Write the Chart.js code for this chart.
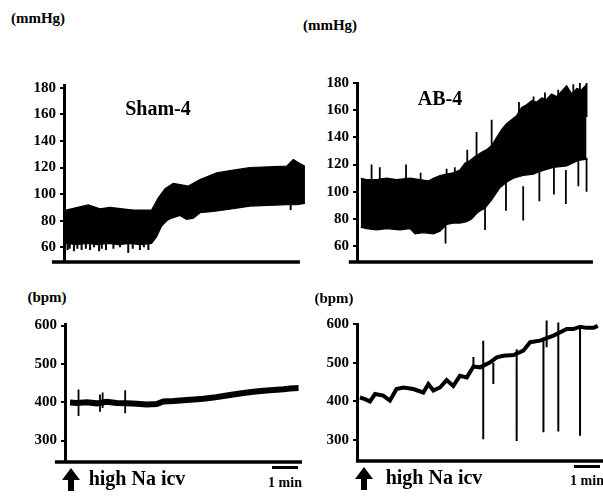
<!DOCTYPE html>
<html>
<head>
<meta charset="utf-8">
<script src="https://cdn.jsdelivr.net/npm/chart.js@4"></script>
<style>
body { margin: 0; background: #fff; }
#page { position: relative; width: 603px; height: 496px; overflow: hidden;
        font-family: "Liberation Serif", "Times New Roman", serif; font-weight: bold; color: #000; }
canvas { position: absolute; }
.t { position: absolute; white-space: nowrap; transform: translate(-50%, -50%); line-height: 1; }
.bar { position: absolute; height: 3px; background: #000; }
.arrow { position: absolute; width: 18px; height: 23px; }
.arrow:before { content: ''; position: absolute; left: 0; top: 0;
  border-left: 9px solid transparent; border-right: 9px solid transparent; border-bottom: 12px solid #000; }
.arrow:after { content: ''; position: absolute; left: 6px; top: 11px; width: 6px; height: 12px; background: #000; }
</style>
</head>
<body>
<div id="page">
  <canvas id="shamBp" width="310" height="205" style="left:0;top:70px"></canvas>
  <canvas id="abBp" width="303" height="205" style="left:300px;top:70px"></canvas>
  <canvas id="shamHr" width="310" height="170" style="left:0;top:310px"></canvas>
  <canvas id="abHr" width="303" height="170" style="left:300px;top:310px"></canvas>

  <div class="t" style="left:38px;top:18px;font-size:15px">(mmHg)</div>
  <div class="t" style="left:330px;top:25px;font-size:15px">(mmHg)</div>
  <div class="t" style="left:158px;top:108px;font-size:20px">Sham-4</div>
  <div class="t" style="left:440px;top:98px;font-size:20px">AB-4</div>
  <div class="t" style="left:47px;top:297px;font-size:15px">(bpm)</div>
  <div class="t" style="left:334px;top:298px;font-size:15px">(bpm)</div>

  <div class="arrow" style="left:62px;top:468px"></div>
  <div class="t" style="left:137px;top:478px;font-size:20px">high Na icv</div>
  <div class="bar" style="left:272px;top:466px;width:26px"></div>
  <div class="t" style="left:285px;top:483px;font-size:14px">1 min</div>

  <div class="arrow" style="left:355px;top:467px"></div>
  <div class="t" style="left:434px;top:477px;font-size:20px">high Na icv</div>
  <div class="bar" style="left:574px;top:465px;width:26px"></div>
  <div class="t" style="left:587px;top:481px;font-size:14px">1 min</div>
</div>
<script>
// time in minutes after the icv injection

// Sham-4 arterial pressure (mmHg), upper and lower edge of the pulse band
const shamBpUpperT = [0, 0.84, 1.28, 1.66, 2.54, 3.23, 3.48, 3.74, 4.05, 4.36, 4.62, 5.06, 5.69, 6.31, 6.94, 8.33, 8.58, 8.83, 9.02];
const shamBpUpperV = [88, 92, 89, 90, 88, 88, 97, 104, 108, 107, 106, 111, 116, 118, 120, 121, 126, 123, 121];
const shamBpLowerT = [0, 0.40, 0.80, 1.20, 1.60, 2.00, 2.40, 2.80, 3.23, 3.42, 3.61, 3.80, 3.99, 4.30, 4.55, 4.81, 5.06, 5.56,
                      6.31, 6.94, 8.33, 8.70, 9.02];
const shamBpLowerV = [63, 62, 63, 62, 63, 62, 63, 62, 63, 68, 76, 80, 82, 84, 81, 82, 86, 87,
                      89, 91, 92, 92, 93];
const shamBpDipT = [0.06, 0.14, 0.30, 0.43, 0.59, 0.75, 0.91, 1.06, 1.25, 1.35, 1.51, 1.79, 2.04, 2.35, 2.52, 2.79, 2.94, 3.11, 8.48];
const shamBpDipV = [58, 59, 57, 59, 58, 59, 58, 60, 57, 59, 58, 59, 60, 56, 59, 58, 60, 58, 88];

// AB-4 arterial pressure (mmHg)
const abBpUpperT = [0.03, 0.25, 0.63, 1.01, 1.38, 1.89, 2.26, 2.58, 2.77, 3.02, 3.27, 3.52, 3.77, 3.96, 4.15, 4.34, 4.59, 4.78, 4.97,
                    5.16, 5.35, 5.53, 5.72, 5.91, 6.10, 6.29, 6.48, 6.67, 6.86, 7.04, 7.23, 7.42, 7.61, 7.80, 7.99, 8.18, 8.36, 8.55];
const abBpUpperV = [110, 109, 109, 110, 109, 110, 109, 108, 110, 112, 113, 114, 116, 121, 123, 126, 129, 131, 134,
                    140, 146, 150, 153, 156, 162, 164, 167, 166, 169, 168, 172, 170, 174, 178, 172, 176, 175, 179];
const abBpLowerT = [0.03, 0.25, 0.63, 1.01, 1.51, 1.89, 2.08, 2.39, 2.77, 3.02, 3.27, 3.52, 3.77, 4.03, 4.21, 4.40, 4.53, 4.72, 4.97,
                    5.28, 5.53, 5.79, 6.16, 6.54, 6.79, 7.30, 7.80, 8.24, 8.58];
const abBpLowerV = [74, 73, 72, 73, 72, 73, 69, 70, 69, 71, 76, 77, 77, 78, 80, 84, 86, 88, 94,
                    103, 107, 110, 112, 113, 115, 118, 119, 123, 124];
const abBpPeakT = [0.44, 0.75, 1.74, 2.29, 3.27, 3.58, 4.05, 4.40, 4.97, 6.00, 6.55, 6.98, 7.48, 8.05, 8.30, 8.55];
const abBpPeakV = [120, 118, 120, 114, 117, 118, 131, 144, 153, 166, 170, 173, 175, 179, 180, 180];
const abBpDipT = [3.23, 4.72, 5.51, 6.16, 6.77, 7.32, 7.77, 8.24, 8.55];
const abBpDipV = [62, 72, 86, 79, 93, 98, 91, 104, 100];

// Sham-4 heart rate (bpm)
const shamHrT = [0.15, 0.40, 0.78, 1.16, 1.53, 1.91, 2.29, 2.67, 3.04, 3.42, 3.67, 4.05, 4.43, 4.81, 5.18, 5.56, 5.94,
                 6.31, 6.69, 7.07, 7.45, 7.82, 8.20, 8.45, 8.77];
const shamHrV = [399, 398, 400, 397, 401, 398, 397, 396, 394, 395, 402, 403, 405, 407, 409, 412, 416,
                 420, 424, 427, 430, 432, 434, 436, 437];
const shamHrSpikeT = [0.47, 1.28, 1.38, 2.23];
const shamHrSpikeLow = [364, 375, 385, 371];
const shamHrSpikeHigh = [433, 420, 425, 431];

// AB-4 heart rate (bpm)
const abHrT = [0, 0.19, 0.38, 0.57, 0.88, 1.13, 1.38, 1.64, 2.01, 2.39, 2.58, 2.77, 3.02, 3.27, 3.52, 3.77, 4.03, 4.28,
               4.53, 4.91, 5.16, 5.41, 5.79, 6.16, 6.42, 6.79, 7.30, 7.80, 8.05, 8.30, 8.55, 8.81, 8.97];
const abHrV = [410, 406, 400, 419, 415, 402, 432, 436, 432, 423, 445, 428, 436, 455, 440, 466, 462, 490,
               488, 501, 514, 518, 520, 531, 553, 557, 570, 587, 587, 593, 590, 590, 595];
const abHrSpikeT = [4.28, 4.65, 5.03, 5.91, 6.92, 7.04, 7.48, 8.30];
const abHrSpikeLow = [485, 302, 445, 298, 320, 540, 322, 311];
const abHrSpikeHigh = [515, 557, 500, 535, 560, 609, 604, 595];

const bpTicks = [60, 80, 100, 120, 140, 160, 180];
const hrTicks = [300, 400, 500, 600];

const serif = "'Liberation Serif', 'Times New Roman', serif";
Chart.defaults.font.family = serif;
Chart.defaults.font.weight = 'bold';
Chart.defaults.color = '#000';

function pts(t, v) {
  return t.map((x, i) => ({ x: x, y: v[i] }));
}
function segs(t, a, b) {
  const out = [];
  t.forEach((x, i) => { out.push({ x: x, y: a[i] }, { x: x, y: b[i] }, { x: x, y: null }); });
  return out;
}

const band = (upper, lower) => [
  { data: upper, borderColor: '#000', backgroundColor: '#000', borderWidth: 1.2, fill: '+1', pointRadius: 0 },
  { data: lower, borderColor: '#000', borderWidth: 1.2, fill: false, pointRadius: 0 }
];
const trace = (data, w) => ({ data: data, borderColor: '#000', borderWidth: w, fill: false, pointRadius: 0,
                              borderJoinStyle: 'miter' });
const spikes = (data, w) => ({ data: data, borderColor: '#000', borderWidth: w || 1.8, fill: false, pointRadius: 0,
                               spanGaps: false, clip: false });

// bottom axis line, may reach past the y axis
const baseLine = {
  id: 'baseLine',
  afterDraw(chart, args, o) {
    const { ctx, chartArea, scales } = chart;
    ctx.save();
    ctx.strokeStyle = '#000';
    ctx.lineWidth = 3.5;
    ctx.beginPath();
    ctx.moveTo(scales.x.getPixelForValue(o.from), chartArea.bottom);
    ctx.lineTo(scales.x.getPixelForValue(o.to), chartArea.bottom);
    ctx.stroke();
    ctx.restore();
  }
};

function panel(id, c) {
  return new Chart(document.getElementById(id), {
    type: 'line',
    data: { datasets: c.datasets },
    options: {
      responsive: false,
      animation: false,
      events: [],
      layout: { padding: c.pad },
      elements: { line: { tension: 0 } },
      plugins: {
        legend: { display: false },
        tooltip: { enabled: false },
        baseLine: { from: c.lineFrom, to: c.lineTo }
      },
      scales: {
        x: { type: 'linear', display: false, min: c.xMin, max: c.xMax },
        y: {
          min: c.yMin, max: c.yMax,
          afterBuildTicks: s => { s.ticks = c.ticks.map(v => ({ value: v })); },
          afterFit: s => { s.width = c.axisW; },
          grid: { drawOnChartArea: false, drawTicks: true, tickLength: 4, lineWidth: 2, color: '#000' },
          border: { display: true, width: 3, color: '#000' },
          ticks: { color: '#000', padding: 4, font: { family: serif, size: 15, weight: 'bold' } }
        }
      }
    },
    plugins: [baseLine]
  });
}

function drawAll() {
  panel('shamBp', {
    datasets: band(pts(shamBpUpperT, shamBpUpperV), pts(shamBpLowerT, shamBpLowerV)).concat([
      spikes(segs(shamBpDipT, shamBpDipV, shamBpDipV.map(v => v + 8)), 2)
    ]),
    ticks: bpTicks, yMin: 49, yMax: 182,
    xMin: -0.075, xMax: 9.06, lineFrom: -0.53, lineTo: 8.83,
    axisW: 64, pad: { top: 15, bottom: 8, right: 4, left: 0 }
  });

  panel('abBp', {
    datasets: band(pts(abBpUpperT, abBpUpperV), pts(abBpLowerT, abBpLowerV)).concat([
      spikes(segs(abBpPeakT, abBpPeakV, abBpPeakV.map(v => v - 25))),
      spikes(segs(abBpDipT, abBpDipV, abBpDipV.map(v => v + 25)))
    ]),
    ticks: bpTicks, yMin: 48.4, yMax: 180,
    xMin: -0.11, xMax: 8.68, lineFrom: -0.42, lineTo: 8.79,
    axisW: 57, pad: { top: 12, bottom: 12, right: 13, left: 0 }
  });

  panel('shamHr', {
    datasets: [trace(pts(shamHrT, shamHrV), 6), spikes(segs(shamHrSpikeT, shamHrSpikeLow, shamHrSpikeHigh))],
    ticks: hrTicks, yMin: 244, yMax: 604,
    xMin: -0.04, xMax: 8.9, lineFrom: -0.42, lineTo: 8.9,
    axisW: 65, pad: { top: 14, bottom: 18, right: 8, left: 0 }
  });

  panel('abHr', {
    datasets: [trace(pts(abHrT, abHrV), 4), spikes(segs(abHrSpikeT, abHrSpikeLow, abHrSpikeHigh), 2)],
    ticks: hrTicks, yMin: 246, yMax: 600,
    xMin: -0.11, xMax: 9.09, lineFrom: -0.15, lineTo: 9.17,
    axisW: 57, pad: { top: 14, bottom: 19, right: 2, left: 0 }
  });
}

document.fonts.load("bold 15px 'Liberation Serif'").then(drawAll, drawAll);
</script>
</body>
</html>
